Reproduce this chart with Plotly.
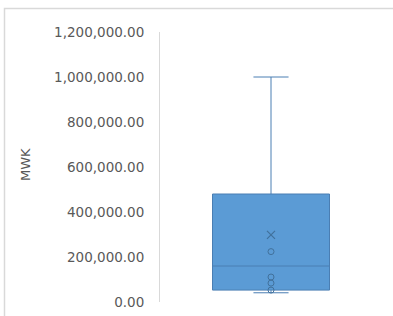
import plotly.graph_objects as go

# Box statistics (MWK)
q1 = [53000]
median = [160000]
q3 = [480000]
lower_fence = [41000]
upper_fence = [1000000]
mean_val = [298000]
inner_points = [224000, 111000, 84000, 53000]

tick_vals = [0, 200000, 400000, 600000, 800000, 1000000, 1200000]
y_title = "MWK"

W, H = 393, 316
L, R, T, B = 160, 11, 32, 14
pw, ph = W - L - R, H - T - B

fig = go.Figure()
fig.add_trace(go.Box(
    x=[0], q1=q1, median=median, q3=q3,
    lowerfence=lower_fence, upperfence=upper_fence,
    width=0.527, whiskerwidth=0.3,
    fillcolor="#5B9BD5", line=dict(color="#4A7EB3", width=1),
    boxpoints=False, hoverinfo="skip", showlegend=False,
))
fig.add_trace(go.Scatter(
    x=[0] * len(inner_points), y=inner_points, mode="markers",
    marker=dict(symbol="circle-open", size=6, color="#41719C", line=dict(width=1)),
    showlegend=False, hoverinfo="skip",
))
fig.add_trace(go.Scatter(
    x=[0], y=mean_val, mode="markers",
    marker=dict(symbol="x-thin-open", size=8, color="#41719C", line=dict(width=1.2, color="#41719C")),
    showlegend=False, hoverinfo="skip",
))

fig.update_layout(
    width=W, height=H,
    margin=dict(l=L, r=R, t=T, b=B, autoexpand=False),
    paper_bgcolor="white", plot_bgcolor="white",
    font=dict(family="DejaVu Sans", color="#595959", size=13),
    xaxis=dict(range=[-0.5, 0.5], visible=False, fixedrange=True),
    yaxis=dict(
        range=[0, 1200000], tickvals=tick_vals, tickformat=",.2f",
        showgrid=False, zeroline=False, showline=True, linecolor="#D9D9D9",
        linewidth=1, ticks="", ticklabelstandoff=12,
        tickfont=dict(size=13.5, color="#595959"),
    ),
    shapes=[dict(
        type="rect", xref="paper", yref="paper",
        x0=(4.5 - L) / pw, x1=(W + 5 - L) / pw,
        y0=(T + ph - (H + 5)) / ph, y1=(T + ph - 8.5) / ph,
        line=dict(color="#D9D9D9", width=1.5), fillcolor="rgba(0,0,0,0)", layer="below",
    )],
    annotations=[dict(
        text=y_title, xref="paper", yref="paper",
        x=(25 - L) / pw, y=(T + ph - 165) / ph, xanchor="center", yanchor="middle",
        textangle=-90, showarrow=False, font=dict(size=13, color="#595959"),
    )],
)

fig.write_html("out.html")
